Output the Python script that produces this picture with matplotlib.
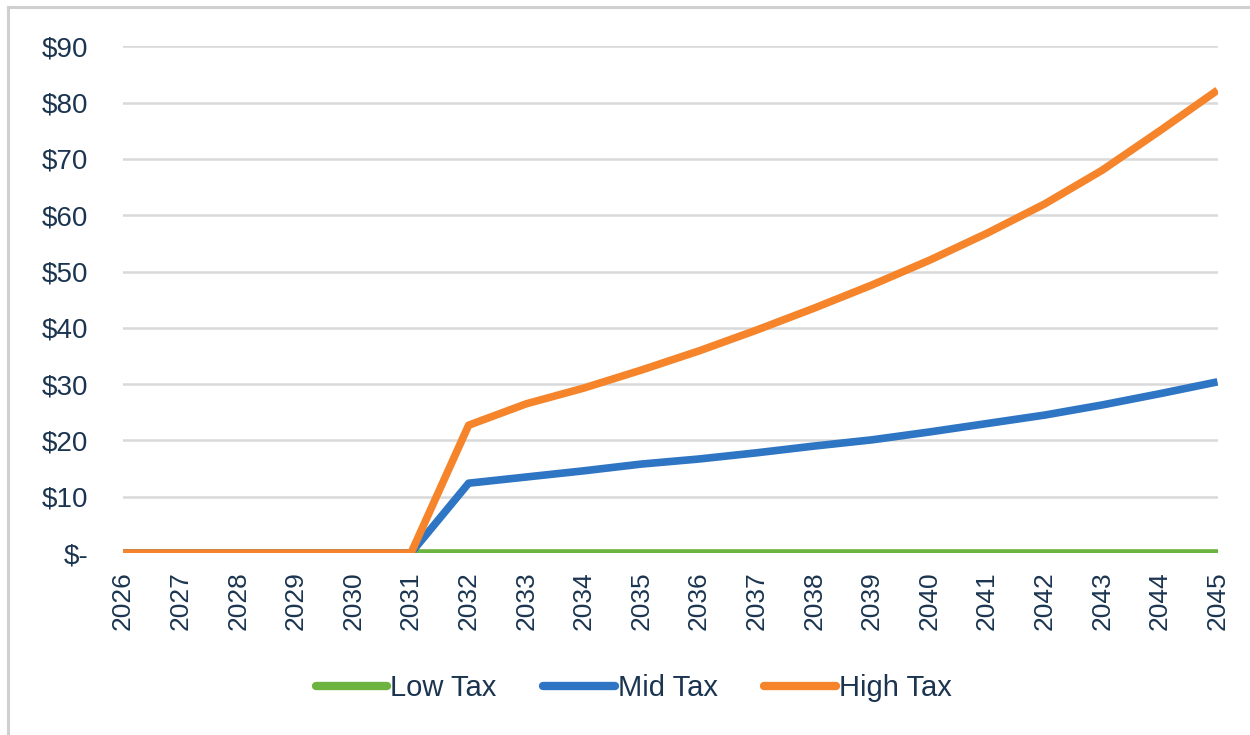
import matplotlib
matplotlib.use("Agg")
import matplotlib.pyplot as plt
from matplotlib.lines import Line2D

years = list(range(2026, 2046))
low_tax = [0] * 20
mid_tax = [0, 0, 0, 0, 0, 0, 12.4, 13.5, 14.6, 15.8, 16.7, 17.8, 19.0, 20.1,
           21.5, 23.0, 24.5, 26.3, 28.3, 30.4]
high_tax = [0, 0, 0, 0, 0, 0, 22.7, 26.5, 29.3, 32.5, 35.9, 39.6, 43.5, 47.6,
            52.0, 56.8, 62.0, 68.0, 75.0, 82.2]
y_ticks = [0, 10, 20, 30, 40, 50, 60, 70, 80, 90]
y_labels = ["$-", "$10", "$20", "$30", "$40", "$50", "$60", "$70", "$80", "$90"]

text_color = "#1B3550"
plt.rcParams["font.family"] = ["Liberation Sans", "DejaVu Sans"]

fig = plt.figure(figsize=(12.5, 7.35), dpi=100)
ax = fig.add_axes([0.0984, 0.2476, 0.8756, 0.6894])

series = [("Low Tax", low_tax, "#6DB33F"),
          ("Mid Tax", mid_tax, "#2E75C4"),
          ("High Tax", high_tax, "#F5842A")]
for name, vals, col in series:
    ax.plot(years, vals, color=col, lw=5.5, solid_capstyle="butt",
            solid_joinstyle="round", label=name, zorder=3)

ax.set_xlim(years[0], years[-1])
ax.set_ylim(0, 90)
ax.set_yticks(y_ticks)
ax.set_yticklabels(y_labels)
ax.set_xticks(years)
ax.set_xticklabels([str(y) for y in years], rotation=90)
ax.tick_params(axis="both", length=0, colors=text_color)
ax.tick_params(axis="y", labelsize=20, pad=25)
ax.tick_params(axis="x", labelsize=19, pad=13)

ax.grid(axis="y", color="#D9D9D9", lw=1.8, zorder=0)
for s in ax.spines.values():
    s.set_visible(False)

handles = [Line2D([0], [0], color=c, lw=6, solid_capstyle="round")
           for _, _, c in series]
leg = fig.legend(handles, [n for n, _, _ in series], loc="center",
                 bbox_to_anchor=(0.507, 0.064), ncol=3, frameon=False,
                 fontsize=21, handlelength=2.45, handletextpad=0.1,
                 columnspacing=1.6)
for t in leg.get_texts():
    t.set_color(text_color)

# thin frame edges along the top and left of the figure
fig.add_artist(Line2D([0.0064, 1.0], [0.9905, 0.9905], color="#D0D0D0", lw=2.2,
                      transform=fig.transFigure))
fig.add_artist(Line2D([0.0064, 0.0064], [0.0, 0.9905], color="#D0D0D0", lw=2.2,
                      transform=fig.transFigure))

fig.savefig("out.png", dpi=100)
